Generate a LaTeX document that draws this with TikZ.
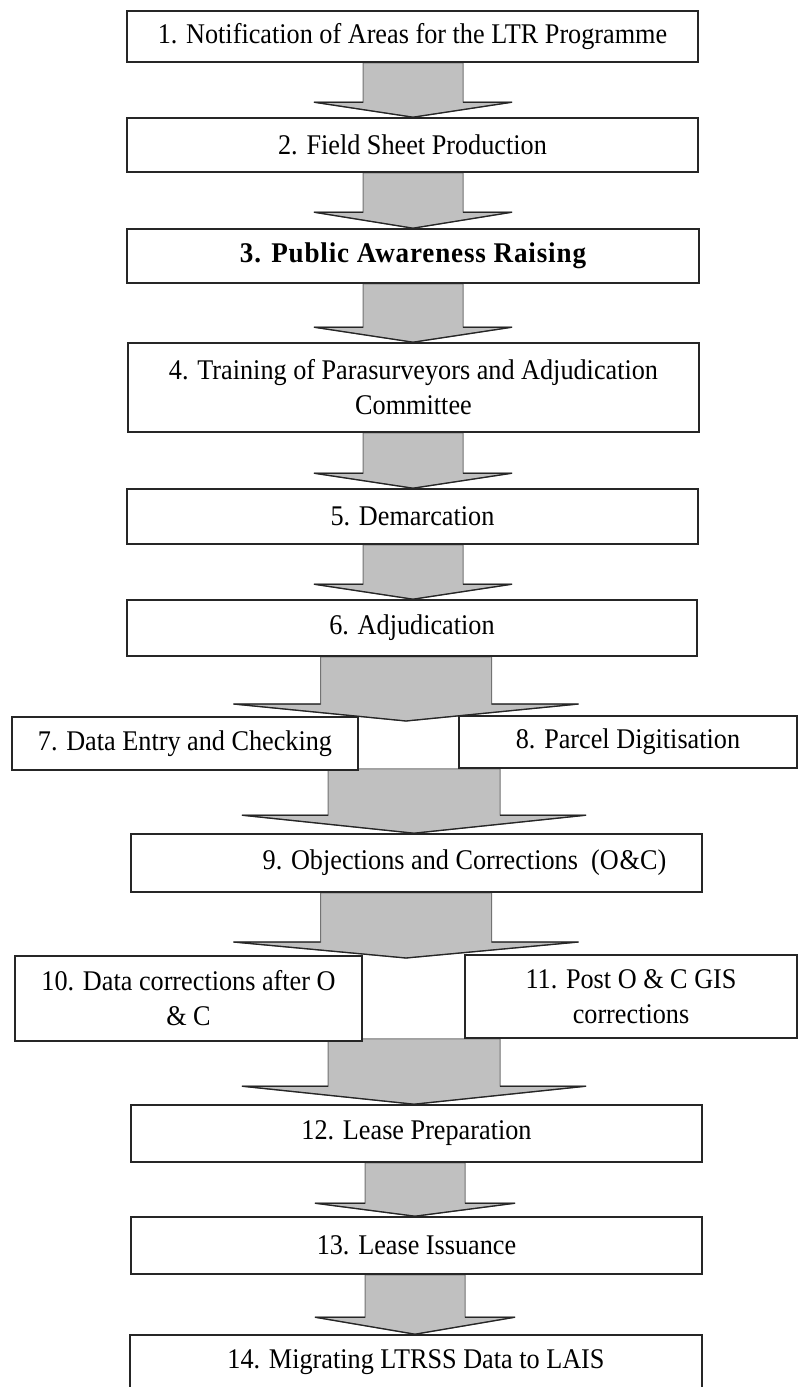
\documentclass[tikz,border=0pt]{standalone}
\usepackage{fontspec}
\setmainfont[FakeStretch=0.92]{Liberation Serif}
\newfontfamily\spacedfont[LetterSpace=3,FakeStretch=0.95]{Liberation Serif}
\usetikzlibrary{calc}
\definecolor{arrowgray}{RGB}{192,192,192}
\pgfdeclarelayer{bg}
\pgfsetlayers{bg,main}
% #1 start, #2 tip, #3 centre x, #4 shaft half width, #5 head half width, #6 head height
\newcommand\blockarr[6]{%
  \draw[blockarrow] let \p1=(#1), \p2=(#2) in
    ({(#3-#4)*1pt},\y1) -- ({(#3+#4)*1pt},\y1) -- ({(#3+#4)*1pt},{\y2+#6*1pt})
    -- ({(#3+#5)*1pt},{\y2+#6*1pt}) -- ({#3*1pt},\y2) -- ({(#3-#5)*1pt},{\y2+#6*1pt})
    -- ({(#3-#4)*1pt},{\y2+#6*1pt}) -- cycle;
  \draw[headedge] let \p1=(#1), \p2=(#2) in
    ({(#3+#4)*1pt},{\y2+#6*1pt}) -- ({(#3+#5)*1pt},{\y2+#6*1pt}) -- ({#3*1pt},\y2)
    -- ({(#3-#5)*1pt},{\y2+#6*1pt}) -- ({(#3-#4)*1pt},{\y2+#6*1pt});}
\begin{document}
\begin{tikzpicture}[x=1pt,y=-1pt,
  box/.style={draw=black!85, line width=1.6pt, fill=white, inner sep=2pt, align=center,
    font=\fontsize{28.5}{35}\selectfont},
  blockarrow/.style={fill=arrowgray, draw=black!55, line width=1pt, line join=miter},
  headedge/.style={draw=black!85, line width=1.3pt, line join=miter}]
\useasboundingbox (0,0) rectangle (798,1387);

\node[box, minimum width=571pt, minimum height=51pt] (b1) at (412.5,36.5) {1. Notification of Areas for the LTR Programme};
\node[box, minimum width=571pt, minimum height=54pt] (b2) at (412.5,145) {2. Field Sheet Production};
\node[box, minimum width=572pt, minimum height=54pt] (b3) at (413,256) {\spacedfont\bfseries 3. Public Awareness Raising};
\node[box, minimum width=571pt, minimum height=89pt] (b4) at (413.5,387.5) {4. Training of Parasurveyors and Adjudication\\Committee};
\node[box, minimum width=571pt, minimum height=55pt] (b5) at (412.5,516.5) {5. Demarcation};
\node[box, minimum width=570pt, minimum height=56pt] (b6) at (412,628) {6. Adjudication};
\node[box, minimum width=346pt, minimum height=53pt] (b7) at (185,743.5) {7. Data Entry and Checking};
\node[box, minimum width=338pt, minimum height=52pt] (b8) at (628,742) {8. Parcel Digitisation};
\node[box, minimum width=571pt, minimum height=58pt] (b9) at (416.5,863) {\hspace*{96pt}9. Objections and Corrections\ \ (O\kern1pt\&C)};
\node[box, minimum width=347pt, minimum height=85pt] (b10) at (188.5,998.5) {10. Data corrections after O\\\& C};
\node[box, minimum width=332pt, minimum height=83pt] (b11) at (631,996.5) {11. Post O \& C GIS\\corrections};
\node[box, minimum width=571pt, minimum height=57pt] (b12) at (416.5,1133.5) {12. Lease Preparation};
\node[box, minimum width=571pt, minimum height=57pt] (b13) at (416.5,1245.5) {13. Lease Issuance};
\node[box, minimum width=572pt, minimum height=55pt] (b14) at (416,1362.5) {14. Migrating LTRSS Data to LAIS};

\coordinate (t1) at (406,721);
\coordinate (t2) at (405,958);

\begin{pgfonlayer}{bg}
\fill[white] (0,0) rectangle (798,1387);
\blockarr{b1.south}{b2.north}{413}{50}{99}{15}
\blockarr{b2.south}{b3.north}{413}{50}{99}{16}
\blockarr{b3.south}{b4.north}{413}{50}{99}{15}
\blockarr{b4.south}{b5.north}{413}{50}{99}{15}
\blockarr{b5.south}{b6.north}{413}{50}{99}{15}
\blockarr{b6.south}{t1}{406}{85.5}{172.5}{17}
\blockarr{b8.south}{b9.north}{414}{86}{172}{18}
\blockarr{b9.south}{t2}{406}{85.5}{172.5}{16}
\blockarr{b11.south}{b12.north}{414}{86}{172}{18}
\blockarr{b12.south}{b13.north}{415}{50}{100}{13}
\blockarr{b13.south}{b14.north}{415}{50}{100}{17}
\end{pgfonlayer}
\end{tikzpicture}
\end{document}
